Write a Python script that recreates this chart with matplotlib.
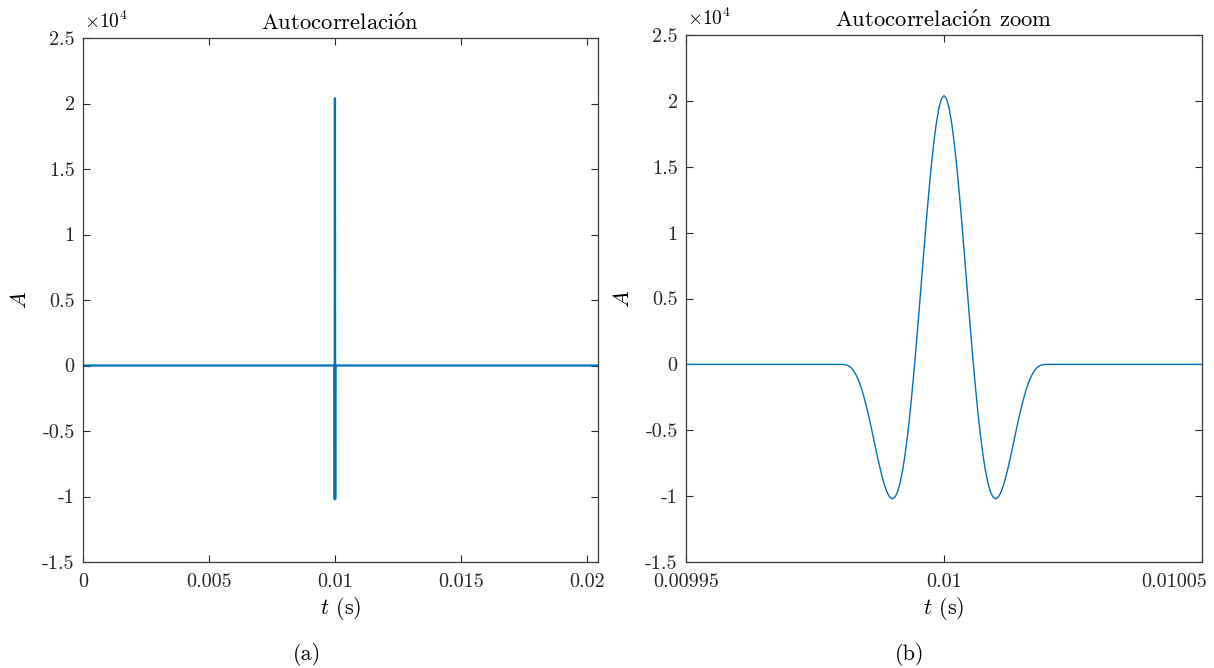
import matplotlib
matplotlib.use("Agg")
import numpy as np
import matplotlib.pyplot as plt
import matplotlib.transforms as mtransforms
from matplotlib.ticker import FixedLocator, FixedFormatter

# Autocorrelation of the transmitted pulse around zero lag (one sample every 0.5 us)
sample_step_us = 0.5
autocorr = [0, -4, -33, -111, -258, -493, -828, -1272, -1827, -2489,
            -3247, -4084, -4979, -5903, -6824, -7705, -8510, -9199, -9734, -10079,
            -10200, -10070, -9668, -8977, -7994, -6720, -5167, -3358, -1325, 893,
            3247, 5680, 8131, 10534, 12819, 14918, 16762, 18287, 19435, 20153,
            20400,
            20153, 19435, 18287, 16762, 14918, 12819, 10534, 8131, 5680, 3247,
            893, -1325, -3358, -5167, -6720, -7994, -8977, -9668, -10070, -10200,
            -10079, -9734, -9199, -8510, -7705, -6824, -5903, -4979, -4084, -3247,
            -2489, -1827, -1272, -828, -493, -258, -111, -33, -4, 0]

# Record: zero lag sits at the centre, the sequence spans [t_start, t_end]
t_start = 0.0
t_center = 0.01
t_end = 0.02044

y_ticks = [-1.5, -1, -0.5, 0, 0.5, 1, 1.5, 2, 2.5]
y_tick_labels = ["-1.5", "-1", "-0.5", "0", "0.5", "1", "1.5", "2", "2.5"]
x_ticks_full = [0, 0.005, 0.01, 0.015, 0.02]
x_labels_full = ["0", "0.005", "0.01", "0.015", "0.02"]
x_ticks_zoom = [0.00995, 0.01, 0.01005]
x_labels_zoom = ["0.00995", "0.01", "0.01005"]

plt.rcParams["font.family"] = "cmr10"
plt.rcParams["mathtext.fontset"] = "cm"
plt.rcParams["axes.unicode_minus"] = False
plt.rcParams["axes.formatter.use_mathtext"] = True

TICK_FS = 14.5
LABEL_FS = 16
TITLE_FS = 16.3
LINE_C = "#0072BD"
AX_C = "#262626"

half = (len(autocorr) - 1) // 2
lags_s = (np.arange(len(autocorr)) - half) * sample_step_us * 1e-6
t = np.concatenate([[t_start], t_center + lags_s, [t_end]])
r = np.concatenate([[0.0], np.array(autocorr, dtype=float), [0.0]])

fig = plt.figure(figsize=(12.14, 6.68), dpi=100)
W, H = 1214, 668
ax1 = fig.add_axes([83 / W, (H - 562) / H, (598 - 83) / W, (562 - 38) / H])
ax2 = fig.add_axes([686 / W, (H - 562) / H, (1202 - 686) / W, (562 - 35) / H])

ax1.plot(t, r, color=LINE_C, lw=1.6)
ax2.plot(t, r, color=LINE_C, lw=1.0)

ax1.set_xlim(t_start, t_end)
ax2.set_xlim(0.00995, 0.01005)


def style(ax, xt, xl, title):
    ax.set_ylim(-1.5e4, 2.5e4)
    ax.yaxis.set_major_locator(FixedLocator([v * 1e4 for v in y_ticks]))
    ax.yaxis.set_major_formatter(FixedFormatter(y_tick_labels))
    ax.xaxis.set_major_locator(FixedLocator(xt))
    ax.xaxis.set_major_formatter(FixedFormatter(xl))
    ax.tick_params(direction="in", length=5, width=0.8, colors=AX_C,
                   labelsize=TICK_FS, top=True, right=True)
    ax.tick_params(axis="x", pad=8)
    ax.tick_params(axis="y", pad=6)
    for s in ax.spines.values():
        s.set_color("#3a3a3a")
        s.set_linewidth(0.9)
    ax.set_title(title, fontsize=TITLE_FS, pad=6, color="black")
    ax.set_xlabel(r"$t$ (s)", fontsize=LABEL_FS, labelpad=3)
    ax.set_ylabel(r"$A$", fontsize=LABEL_FS, labelpad=9)
    ax.annotate(r"$\times 10^{4}$", xy=(0, 1), xycoords="axes fraction",
                xytext=(1, 4), textcoords="offset points",
                fontsize=TICK_FS - 0.5, ha="left", va="bottom")


style(ax1, x_ticks_full, x_labels_full, r"Autocorrelaci$\acute{\mathrm{o}}$n")
style(ax2, x_ticks_zoom, x_labels_zoom, r"Autocorrelaci$\acute{\mathrm{o}}$n zoom")

# keep the last zoom tick label inside the figure
last = ax2.get_xticklabels()[-1]
last.set_horizontalalignment("right")
last.set_transform(last.get_transform()
                   + mtransforms.ScaledTranslation(5 / 100, 0, fig.dpi_scale_trans))

fig.text(307 / W, 1 - 655 / H, "(a)", fontsize=LABEL_FS, ha="center", va="center")
fig.text(910 / W, 1 - 655 / H, "(b)", fontsize=LABEL_FS, ha="center", va="center")

fig.savefig("out.png", dpi=100)
